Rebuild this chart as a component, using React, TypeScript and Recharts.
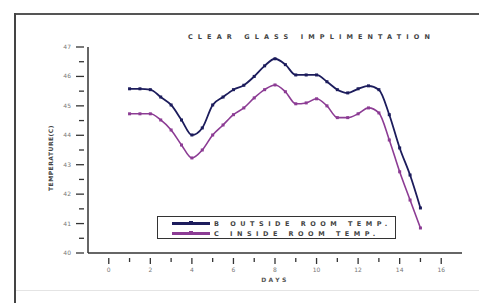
import { Line, LineChart, XAxis, YAxis } from "recharts";

const days = [1, 1.5, 2, 2.5, 3, 3.5, 4, 4.5, 5, 5.5, 6, 6.5, 7, 7.5, 8, 8.5, 9, 9.5, 10, 10.5, 11, 11.5, 12, 12.5, 13, 13.5, 14, 14.5, 15];
const outside = [45.58, 45.58, 45.55, 45.3, 45.03, 44.52, 44.01, 44.25, 45.03, 45.3, 45.55, 45.7, 46.0, 46.36, 46.6, 46.4, 46.05, 46.05, 46.05, 45.82, 45.55, 45.44, 45.58, 45.68, 45.55, 44.7, 43.57, 42.65, 41.53];
const inside = [44.73, 44.73, 44.73, 44.52, 44.18, 43.67, 43.23, 43.5, 44.01, 44.35, 44.7, 44.93, 45.27, 45.55, 45.71, 45.48, 45.07, 45.1, 45.24, 45.0, 44.6, 44.6, 44.73, 44.93, 44.76, 43.84, 42.76, 41.8, 40.85];
const xTicks = [0, 1, 2, 3, 4, 5, 6, 7, 8, 9, 10, 11, 12, 13, 14, 15, 16];
const yTicks = [40, 40.5, 41, 41.5, 42, 42.5, 43, 43.5, 44, 44.5, 45, 45.5, 46, 46.5, 47];

const NAVY = "#1c1c5c";
const PURPLE = "#8c3c94";
const FONT = "'DejaVu Sans', sans-serif";

const data = days.map((d, i) => ({ day: d, outside: outside[i], inside: inside[i] }));

const SquareDot = ({ cx, cy, color }: any) => (
  <rect x={cx - 1.5} y={cy - 1.5} width={3} height={3} fill={color} />
);

const XTick = ({ x, y, payload }: any) => {
  const major = payload.value % 2 === 0;
  return (
    <g>
      <line x1={x} x2={x} y1={y - 3} y2={y + (major ? 3 : 1)} stroke="#333" strokeWidth={1.3} />
      {major && (
        <text x={x} y={y + 11} textAnchor="middle" fontSize={6} fill="#777" fontFamily={FONT}>
          {payload.value}
        </text>
      )}
    </g>
  );
};

const YTick = ({ x, y, payload }: any) => {
  const major = Number.isInteger(payload.value);
  return (
    <g>
      <line x1={x - (major ? 4 : 1)} x2={x + 4} y1={y} y2={y} stroke="#333" strokeWidth={1.3} />
      {major && (
        <text x={x - 9} y={y + 2} textAnchor="end" fontSize={6} fill="#777" fontFamily={FONT}>
          {payload.value}
        </text>
      )}
    </g>
  );
};

export default function App() {
  return (
    <div style={{ position: "absolute", left: 0, top: 0, width: 479, height: 303, background: "#fff", fontFamily: FONT }}>
      <div style={{ position: "absolute", left: 15, top: 13, width: 464, height: 1.5, background: "#555" }} />
      <div style={{ position: "absolute", left: 14, top: 13, width: 2, height: 290, background: "#444" }} />
      <div style={{ position: "absolute", left: 16, top: 290, width: 463, height: 1, background: "#e4e4e4" }} />
      <LineChart width={479} height={303} data={data} margin={{ top: 47, right: 17, bottom: 20, left: 58 }}>
        <XAxis
          dataKey="day"
          type="number"
          domain={[-1, 17]}
          ticks={xTicks}
          interval={0}
          height={30}
          axisLine={{ stroke: "#333", strokeWidth: 1.5 }}
          tickLine={false}
          tick={<XTick />}
        />
        <YAxis
          type="number"
          domain={[40, 47]}
          ticks={yTicks}
          interval={0}
          width={30}
          axisLine={{ stroke: "#333", strokeWidth: 1.5 }}
          tickLine={false}
          tick={<YTick />}
        />
        <Line
          dataKey="outside"
          type="monotone"
          stroke={NAVY}
          strokeWidth={1.8}
          dot={<SquareDot color={NAVY} />}
          isAnimationActive={false}
        />
        <Line
          dataKey="inside"
          type="monotone"
          stroke={PURPLE}
          strokeWidth={1.6}
          dot={<SquareDot color={PURPLE} />}
          isAnimationActive={false}
        />
      </LineChart>
      <div style={{ position: "absolute", left: 188, top: 33, fontSize: 6.5, fontWeight: 700, letterSpacing: 5.1, color: "#444", whiteSpace: "nowrap" }}>
        CLEAR GLASS IMPLIMENTATION
      </div>
      <div style={{ position: "absolute", left: 50, top: 158, transform: "translate(-50%, -50%) rotate(-90deg)", fontSize: 6, fontWeight: 700, color: "#444", whiteSpace: "nowrap", letterSpacing: 0.5 }}>
        TEMPERATURE(C)
      </div>
      <div style={{ position: "absolute", left: 275, top: 279, transform: "translate(-50%, -50%)", fontSize: 6, fontWeight: 700, letterSpacing: 2.5, color: "#555" }}>
        DAYS
      </div>
      <div style={{ position: "absolute", left: 157, top: 216, width: 239, height: 23, border: "1.5px solid #333", background: "#fff", boxSizing: "border-box" }}>
        {[
          { label: "B OUTSIDE ROOM TEMP.", color: NAVY },
          { label: "C INSIDE ROOM TEMP.", color: PURPLE },
        ].map((r, i) => (
          <div key={i} style={{ position: "absolute", left: 14, top: 2 + i * 10, height: 9, display: "flex", alignItems: "center" }}>
            <div style={{ position: "relative", width: 38, height: 2.5, background: r.color }}>
              <div style={{ position: "absolute", left: 17, top: -1, width: 4, height: 4, background: r.color }} />
            </div>
            <span style={{ marginLeft: 4, fontSize: 6.5, fontWeight: 700, letterSpacing: 4.5, color: "#444", whiteSpace: "nowrap" }}>{r.label}</span>
          </div>
        ))}
      </div>
    </div>
  );
}
